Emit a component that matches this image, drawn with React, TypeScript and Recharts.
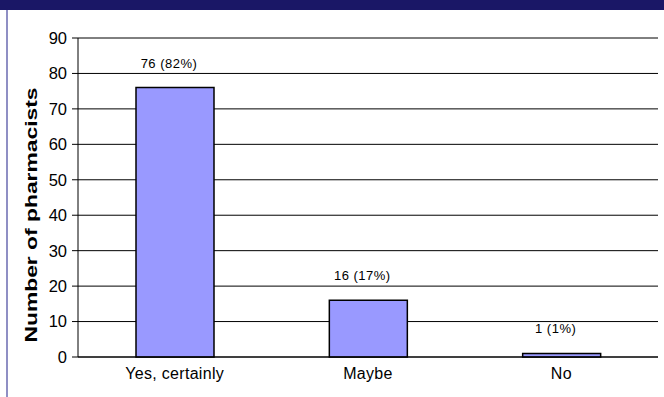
import { BarChart, Bar, XAxis, YAxis, CartesianGrid, LabelList } from "recharts";

const CATEGORIES = ["Yes, certainly", "Maybe", "No"];
const COUNTS = [76, 16, 1];
const PERCENTS = [82, 17, 1];
const Y_TICKS = [0, 10, 20, 30, 40, 50, 60, 70, 80, 90];
const Y_TITLE = "Number of pharmacists";

const data = CATEGORIES.map((name, i) => ({
  name,
  count: COUNTS[i],
  label: `${COUNTS[i]} (${PERCENTS[i]}%)`,
}));

const FONT = "'Liberation Sans', Arial, sans-serif";

// the y title in the source is stretched along its length, so force its length
const YTitle = () => (
  <text
    x={31}
    y={215}
    transform="rotate(-90 31 215)"
    textAnchor="middle"
    dominantBaseline="central"
    fontFamily={FONT}
    fontWeight="bold"
    fontSize={16}
    fill="#000"
    textLength={255}
    lengthAdjust="spacingAndGlyphs"
  >
    {Y_TITLE}
  </text>
);

export default function App() {
  return (
    <div
      style={{
        position: "absolute",
        left: 0,
        top: 0,
        width: 664,
        height: 397,
        background: "#fff",
        fontFamily: FONT,
      }}
    >
      <div style={{ position: "absolute", left: 0, top: 0, width: 664, height: 10, background: "#1a1766" }} />
      <div style={{ position: "absolute", left: 6, top: 10, width: 2, height: 387, background: "#8f8fc4" }} />
      <BarChart
        width={664}
        height={397}
        data={data}
        margin={{ top: 38, right: 6, left: 0, bottom: 0 }}
        style={{ position: "absolute", left: 0, top: 0 }}
      >
        <CartesianGrid vertical={false} stroke="#000" strokeWidth={1} yAxisId="left" />
        <XAxis
          dataKey="name"
          height={40}
          axisLine={{ stroke: "#000" }}
          tickLine={false}
          tickSize={0}
          tickMargin={11}
          tick={{ fill: "#000", fontSize: 16, fontFamily: FONT, letterSpacing: 0.3 }}
        />
        <YAxis
          yAxisId="left"
          width={78}
          domain={[0, 90]}
          ticks={Y_TICKS}
          interval={0}
          axisLine={{ stroke: "#000" }}
          tickLine={{ stroke: "#000" }}
          tickSize={6}
          tickMargin={5}
          tick={{ fill: "#000", fontSize: 16.5, fontFamily: FONT }}
          label={<YTitle />}
        />
        <YAxis
          yAxisId="right"
          orientation="right"
          width={0}
          domain={[0, 90]}
          tick={false}
          tickLine={false}
          axisLine={{ stroke: "#000" }}
        />
        <Bar
          yAxisId="left"
          dataKey="count"
          fill="#9999ff"
          stroke="#000"
          strokeWidth={1.5}
          barSize={78}
          isAnimationActive={false}
        >
          <LabelList
            dataKey="label"
            position="top"
            offset={20}
            dx={-6}
            style={{ fontSize: 13, fill: "#000", fontFamily: FONT, letterSpacing: 0.5 }}
          />
        </Bar>
      </BarChart>
    </div>
  );
}
